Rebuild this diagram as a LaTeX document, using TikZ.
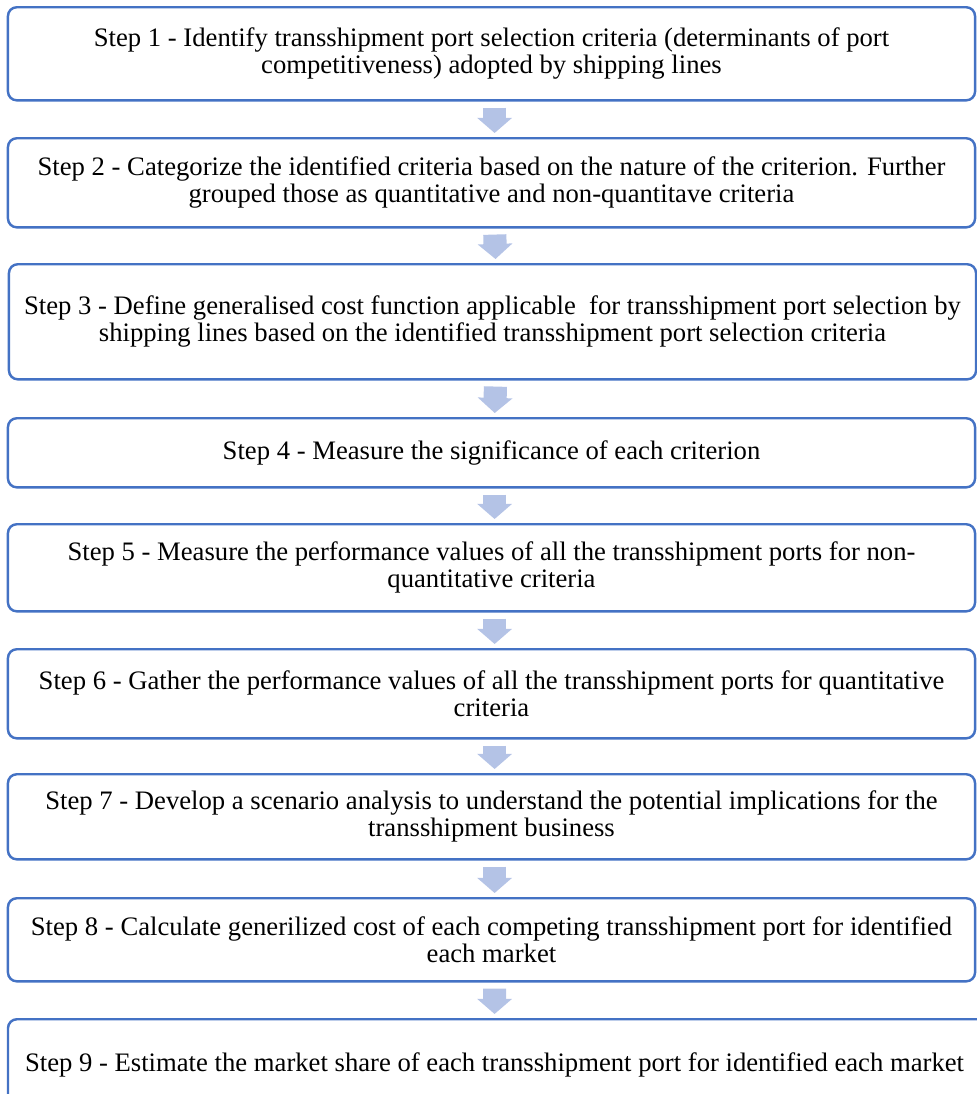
\documentclass[tikz,border=0pt]{standalone}
\usepackage{fontspec}
\setmainfont{Liberation Serif}
\usetikzlibrary{arrows.meta}
\definecolor{boxblue}{HTML}{4472C4}
\definecolor{arrowblue}{HTML}{B4C3E6}
\tikzset{
  stepbox/.style={draw=boxblue, line width=1.1pt, rounded corners=4pt, fill=white, anchor=north,
    minimum width=435.2pt, inner sep=0pt, align=center, font=\fontsize{12}{12.2}\selectfont},
  flow/.style={draw=arrowblue, line width=10.4pt, -{Triangle[width=15.3pt,length=6.8pt]},
    shorten <=2.7pt, shorten >=1.8pt, transform canvas={xshift=1.4pt}}
}

\begin{document}
\begin{tikzpicture}[x=0.45pt,y=-0.45pt]
        \useasboundingbox (0,0) rectangle (977,1094);
        \node[stepbox, minimum height=41.9pt](s1) at (491.5,6) {Step 1 - Identify transshipment port selection criteria (determinants of port\\competitiveness) adopted by shipping lines};
        \node[stepbox, minimum height=40.1pt](s2) at (491.5,137) {Step 2 - Categorize the identified criteria based on the nature of the criterion. Further\\grouped those as quantitative and non-quantitave criteria};
        \node[stepbox, minimum height=51.8pt](s3) at (492.5,263) {Step 3 - Define generalised cost function applicable\ \ for transshipment port selection by\\shipping lines based on the identified transshipment port selection criteria};
        \node[stepbox, minimum height=31.1pt](s4) at (491.5,417) {Step 4 - Measure the significance of each criterion};
        \node[stepbox, minimum height=39.2pt](s5) at (491.5,523) {Step 5 - Measure the performance values of all the transshipment ports for non-\\quantitative criteria};
        \node[stepbox, minimum height=40.1pt](s6) at (491.5,648) {Step 6 - Gather the performance values of all the transshipment ports for quantitative\\criteria};
        \node[stepbox, minimum height=38.3pt](s7) at (491.5,773) {Step 7 - Develop a scenario analysis to understand the potential implications for the\\transshipment business};
        \node[stepbox, minimum height=37.4pt](s8) at (491.5,897) {Step 8 - Calculate generilized cost of each competing transshipment port for identified\\each market};
        \node[stepbox, minimum height=41.4pt, minimum width=445.5pt](s9) at (503,1018) {Step 9 - Estimate the market share of each transshipment port for identified each market\hspace*{7.65pt}};
        \draw[flow](s1.south)--(s2.north);
        \draw[flow](s2.south)--(s3.north);
        \draw[flow](s3.south)--(s4.north);
        \draw[flow](s4.south)--(s5.north);
        \draw[flow](s5.south)--(s6.north);
        \draw[flow](s6.south)--(s7.north);
        \draw[flow](s7.south)--(s8.north);
        \draw[flow](s8.south)--([xshift=-5.2pt]s9.north);
        \end{tikzpicture}
\end{document}
